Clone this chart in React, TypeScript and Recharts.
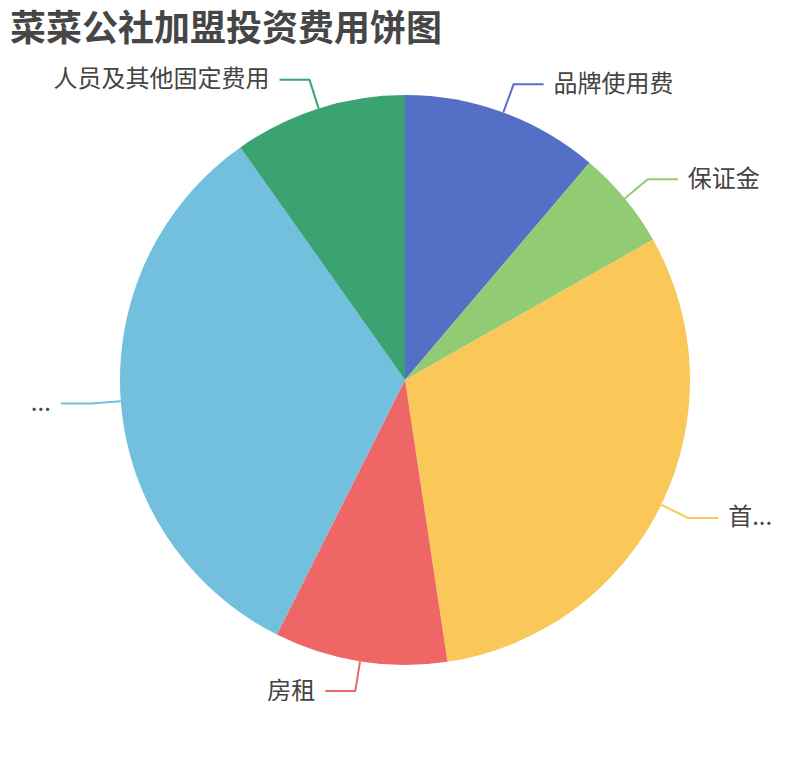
import { PieChart, Pie, Cell } from 'recharts';

// 费用名称（图中被截断的标签按原样保留）
const NAMES = ['品牌使用费', '保证金', '首...', '房租', '...', '人员及其他固定费用'];
// 各项费用（万元，按图中扇区角度估读）
const VALUES = [2, 1, 5.5, 1.75, 5.85, 1.75];
const COLORS = ['#5470c6', '#91cc75', '#fac858', '#ee6666', '#73c0de', '#3ba272'];

const TITLE = '菜菜公社加盟投资费用饼图';

const data = NAMES.map((name, i) => ({ name, value: VALUES[i] }));

const RADIAN = Math.PI / 180;
const FONT = '"Noto Sans CJK SC", "Noto Sans", sans-serif';

// 标签：先沿半径方向伸出，再水平折线，文字接在折线末端
const renderLabel = (props: any) => {
  const { cx, cy, midAngle, outerRadius, index } = props;
  const cos = Math.cos(-midAngle * RADIAN);
  const sin = Math.sin(-midAngle * RADIAN);
  const sx = cx + outerRadius * cos;
  const sy = cy + outerRadius * sin;
  const mx = cx + (outerRadius + 30) * cos;
  const my = cy + (outerRadius + 30) * sin;
  const dir = cos >= 0 ? 1 : -1;
  const ex = mx + dir * 30;
  const color = COLORS[index % COLORS.length];
  return (
    <g key={`label-${index}`}>
      <polyline
        points={`${sx},${sy} ${mx},${my} ${ex},${my}`}
        stroke={color}
        strokeWidth={2}
        fill="none"
      />
      <text
        x={ex + dir * 10}
        y={my - 3}
        textAnchor={dir > 0 ? 'start' : 'end'}
        dominantBaseline="central"
        fill="#444"
        fontSize={24}
        fontFamily={FONT}
      >
        {NAMES[index]}
      </text>
    </g>
  );
};

const App = () => {
  return (
    <div style={{ position: 'absolute', left: 0, top: 0, width: 810, height: 760, background: '#fff' }}>
      <div
        style={{
          position: 'absolute',
          left: 10,
          top: 0,
          lineHeight: '50px',
          fontSize: 36,
          fontWeight: 'bold',
          color: '#464646',
          fontFamily: FONT,
          whiteSpace: 'nowrap',
        }}
      >
        {TITLE}
      </div>
      <PieChart
        width={810}
        height={760}
        margin={{ top: 0, right: 0, bottom: 0, left: 0 }}
        style={{ position: 'absolute', left: 0, top: 0 }}
      >
        <Pie
          data={data}
          dataKey="value"
          nameKey="name"
          cx={405}
          cy={380}
          outerRadius={285}
          startAngle={90}
          endAngle={-270}
          stroke="none"
          label={renderLabel}
          labelLine={false}
          isAnimationActive={false}
        >
          {data.map((entry, index) => (
            <Cell key={`cell-${entry.name}-${index}`} fill={COLORS[index % COLORS.length]} />
          ))}
        </Pie>
      </PieChart>
    </div>
  );
};

export default App;
